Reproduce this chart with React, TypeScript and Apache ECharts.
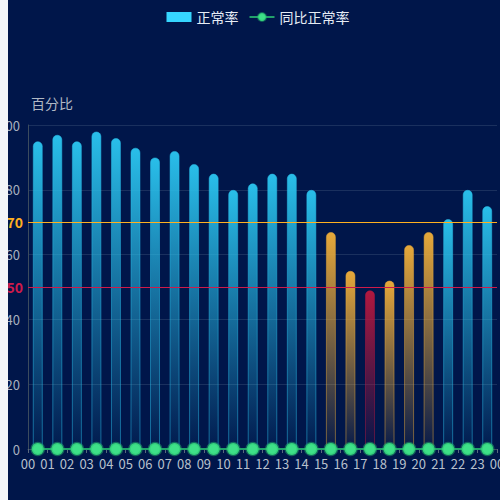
import React, { useEffect, useRef } from "react";
import * as echarts from "echarts";

const hours = ["00","01","02","03","04","05","06","07","08","09","10","11","12","13","14","15","16","17","18","19","20","21","22","23"];
const axisLabels = ["00","01","02","03","04","05","06","07","08","09","10","11","12","13","14","15","16","17","18","19","20","21","22","23","00"];
const normalRate = [95, 97, 95, 98, 96, 93, 90, 92, 88, 85, 80, 82, 85, 85, 80, 67, 55, 49, 52, 63, 67, 71, 80, 75];
const yoyRate = [0, 0, 0, 0, 0, 0, 0, 0, 0, 0, 0, 0, 0, 0, 0, 0, 0, 0, 0, 0, 0, 0, 0, 0];
const goodLine = 70;
const badLine = 50;

const BG = "#00164a";
const FONT = "'Noto Sans CJK SC', 'Noto Sans', sans-serif";
const ORANGE = "#ffb020";
const RED = "#d01a4a";

function barColors(v: number) {
  let rgb = "41,190,233";
  if (v < badLine) rgb = "176,24,63";
  else if (v < goodLine) rgb = "230,168,58";
  return {
    color: new echarts.graphic.LinearGradient(0, 0, 0, 1, [
      { offset: 0, color: `rgba(${rgb},1)` },
      { offset: 1, color: `rgba(${rgb},0.03)` },
    ]),
    borderColor: `rgba(${rgb},0.5)`,
    borderWidth: 1,
  };
}

export default function App() {
  const ref = useRef<HTMLDivElement>(null);
  useEffect(() => {
    document.body.style.background = "#f4f6f9";
    const chart = echarts.init(ref.current!, undefined, { renderer: "svg" });
    chart.setOption({
      animation: false,
      backgroundColor: BG,
      textStyle: { fontFamily: FONT },
      legend: {
        top: 5,
        left: "center",
        itemWidth: 25,
        itemHeight: 10,
        itemGap: 10,
        textStyle: { color: "#e6ecf5", fontSize: 14, fontFamily: FONT },
        data: [
          { name: "正常率", icon: "rect", itemStyle: { color: "#36d6ff" } },
          { name: "同比正常率" },
        ],
      },
      grid: { left: 20, right: 11, top: 125, bottom: 51, containLabel: false, outerBoundsMode: "none" },
      xAxis: [
        {
          type: "category",
          data: axisLabels,
          boundaryGap: false,
          axisLine: { show: true, lineStyle: { color: "#3b4b5e" } },
          axisTick: { show: true, length: 4, lineStyle: { color: "#5a6a7e" } },
          axisLabel: { color: "#b8c0cc", fontSize: 13, margin: 8, fontFamily: FONT, interval: 0 },
          splitLine: { show: false },
        },
        {
          type: "category",
          data: hours,
          boundaryGap: true,
          show: false,
        },
      ],
      yAxis: {
        type: "value",
        name: "百分比",
        nameGap: 15,
        nameTextStyle: { color: "#b0b8c4", fontSize: 14, align: "left", padding: [0, 0, 0, 3], fontFamily: FONT },
        min: 0,
        max: 100,
        interval: 20,
        axisLine: { show: true, lineStyle: { color: "#3b4b5e" } },
        axisTick: { show: false },
        axisLabel: { color: "#a9b1bf", fontSize: 13, margin: 8, fontFamily: FONT },
        splitLine: { lineStyle: { color: "rgba(120,140,170,0.22)" } },
      },
      series: [
        {
          name: "正常率",
          type: "bar",
          xAxisIndex: 1,
          barWidth: 10,
          itemStyle: { color: "#36d6ff", borderRadius: [5, 5, 0, 0] },
          data: normalRate.map((v) => ({ value: v, itemStyle: barColors(v) })),
        },
        {
          name: "同比正常率",
          type: "line",
          xAxisIndex: 1,
          data: yoyRate,
          symbol: "circle",
          symbolSize: 12,
          lineStyle: { color: "#22a06b", width: 2 },
          itemStyle: { color: "#3ee088", borderColor: "rgba(40,190,110,0.45)", borderWidth: 2.5 },
          z: 5,
          markLine: {
            silent: true,
            symbol: "none",
            data: [
              {
                yAxis: goodLine,
                lineStyle: { color: ORANGE, type: "solid", width: 1, opacity: 1 },
                label: { position: "start", color: ORANGE, fontWeight: "bold", fontSize: 14, fontFamily: FONT },
              },
              {
                yAxis: badLine,
                lineStyle: { color: RED, type: "solid", width: 1, opacity: 1 },
                label: { position: "start", color: RED, fontWeight: "bold", fontSize: 14, fontFamily: FONT },
              },
            ],
          },
        },
      ],
    });
    return () => chart.dispose();
  }, []);
  return (
    <div style={{ position: "fixed", left: 0, top: 0, width: 500, height: 500, overflow: "hidden", background: "#f4f6f9" }}>
      <div ref={ref} style={{ position: "absolute", left: 8, top: 0, width: 500, height: 500 }} />
    </div>
  );
}
